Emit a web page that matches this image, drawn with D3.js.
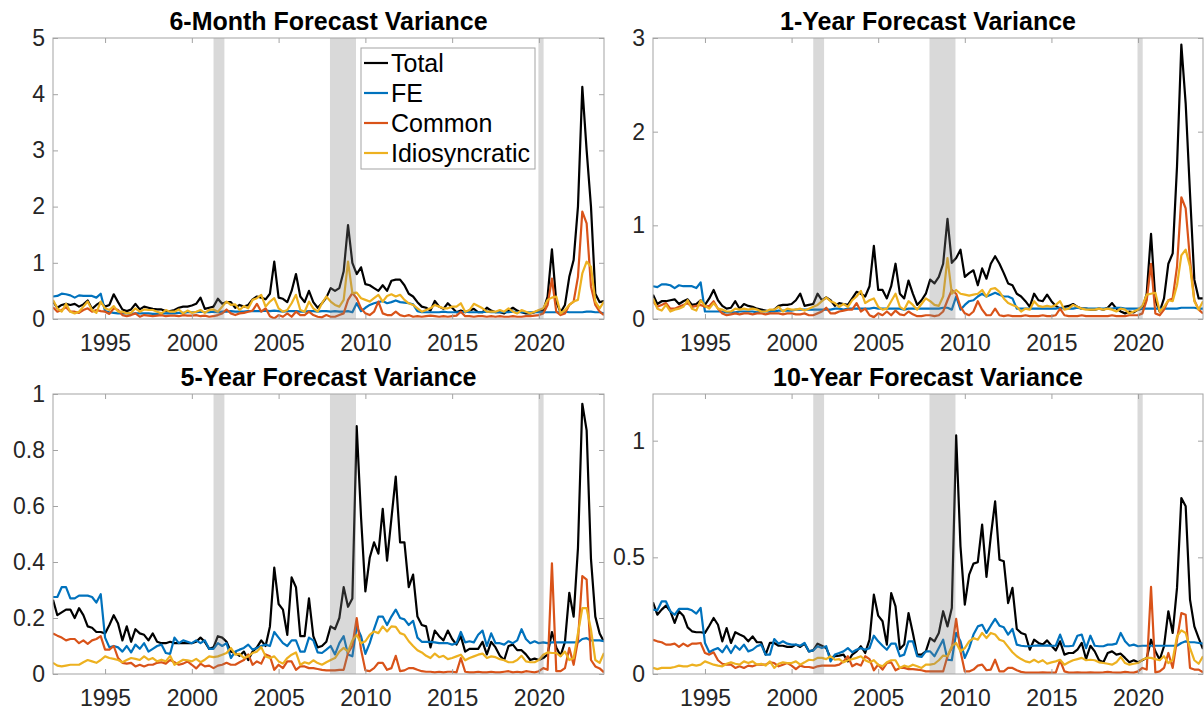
<!DOCTYPE html>
<html>
<head>
<meta charset="utf-8">
<script src="https://cdn.jsdelivr.net/npm/d3@7"></script>
<style>
  body { margin: 0; background: #fff; }
  svg text { font-family: "Liberation Sans", Arial, Helvetica, sans-serif; }
</style>
</head>
<body>
<svg id="chart" width="1204" height="710"></svg>
<script>
// Quarterly observations, 1992Q1 through 2023Q4
const startYear = 1992;
const seriesNames = ["Total", "FE", "Common", "Idiosyncratic"];
const xTickYears = [1995, 2000, 2005, 2010, 2015, 2020];

// NBER recessions (decimal years)
const recessionStart = [2001.25, 2007.96, 2019.97];
const recessionEnd   = [2001.875, 2009.46, 2020.27];

const panelTitles = ["6-Month Forecast Variance", "1-Year Forecast Variance",
                     "5-Year Forecast Variance", "10-Year Forecast Variance"];
const yDomainMax = [5, 3, 1, 1.2];
const yTickValues = [[0, 1, 2, 3, 4, 5], [0, 1, 2, 3], [0, 0.2, 0.4, 0.6, 0.8, 1], [0, 0.5, 1]];

// ---- 6-month horizon ----
const total6m = [0.31,0.2,0.25,0.27, 0.25,0.27,0.22,0.26, 0.33,0.18,0.25,0.3, 0.22,0.25,0.44,0.3,
  0.17,0.14,0.17,0.27, 0.17,0.22,0.2,0.18, 0.17,0.17,0.14,0.14, 0.16,0.2,0.22,0.22,
  0.24,0.27,0.38,0.18, 0.2,0.22,0.36,0.27, 0.3,0.3,0.2,0.25, 0.22,0.25,0.35,0.4,
  0.38,0.35,0.45,1.02, 0.38,0.36,0.3,0.5, 0.8,0.4,0.3,0.5, 0.3,0.2,0.28,0.38,
  0.55,0.5,0.55,0.85, 1.67,1.0,0.8,0.92, 0.62,0.6,0.55,0.5, 0.6,0.5,0.68,0.7,
  0.7,0.6,0.45,0.4, 0.3,0.22,0.2,0.15, 0.32,0.22,0.18,0.28, 0.2,0.12,0.15,0.12,
  0.15,0.18,0.12,0.12, 0.2,0.15,0.12,0.12, 0.1,0.15,0.2,0.15, 0.12,0.1,0.1,0.12,
  0.15,0.15,0.4,1.24, 0.3,0.12,0.25,0.75, 1.05,2.0,4.13,3.0, 2.0,0.45,0.3,0.32];
const fe6m = [0.4,0.41,0.45,0.44, 0.42,0.38,0.42,0.41, 0.41,0.41,0.38,0.45, 0.14,0.12,0.11,0.1,
  0.1,0.1,0.09,0.1, 0.1,0.1,0.1,0.09, 0.09,0.1,0.1,0.1, 0.1,0.11,0.11,0.12,
  0.12,0.12,0.13,0.12, 0.12,0.13,0.12,0.13, 0.13,0.14,0.13,0.13, 0.13,0.14,0.14,0.14,
  0.14,0.15,0.14,0.15, 0.14,0.13,0.14,0.14, 0.14,0.13,0.13,0.14, 0.14,0.13,0.14,0.14,
  0.13,0.14,0.13,0.13, 0.14,0.12,0.28,0.14, 0.2,0.25,0.28,0.3, 0.32,0.28,0.3,0.33,
  0.3,0.29,0.28,0.26, 0.14,0.12,0.12,0.12, 0.12,0.12,0.13,0.12, 0.12,0.12,0.12,0.13,
  0.12,0.12,0.12,0.12, 0.13,0.12,0.12,0.12, 0.12,0.12,0.13,0.12, 0.12,0.12,0.12,0.12,
  0.12,0.12,0.12,0.12, 0.12,0.12,0.13,0.12, 0.12,0.12,0.12,0.13, 0.13,0.12,0.12,0.1];
const common6m = [0.21,0.13,0.16,0.21, 0.13,0.13,0.11,0.16, 0.19,0.13,0.16,0.14, 0.13,0.09,0.19,0.16,
  0.07,0.05,0.07,0.1, 0.04,0.07,0.06,0.05, 0.06,0.07,0.05,0.06, 0.06,0.05,0.07,0.06,
  0.06,0.07,0.05,0.06, 0.04,0.05,0.07,0.1, 0.17,0.1,0.07,0.1, 0.11,0.13,0.15,0.27,
  0.13,0.19,0.05,0.01, 0.07,0.04,0.1,0.04, 0.13,0.07,0.07,0.13, 0.07,0.04,0.03,0.07,
  0.04,0.04,0.07,0.1, 0.34,0.46,0.37,0.19, 0.1,0.07,0.13,0.31, 0.1,0.07,0.07,0.13,
  0.07,0.05,0.07,0.04, 0.05,0.04,0.05,0.06, 0.05,0.04,0.05,0.04, 0.05,0.06,0.13,0.05,
  0.05,0.04,0.05,0.05, 0.04,0.05,0.04,0.05, 0.04,0.04,0.05,0.04, 0.04,0.05,0.05,0.06,
  0.07,0.1,0.25,0.72, 0.13,0.07,0.1,0.25, 0.31,0.75,1.91,1.7, 0.58,0.25,0.13,0.07];
const idio6m = [0.34,0.19,0.13,0.27, 0.13,0.1,0.13,0.22, 0.31,0.16,0.11,0.31, 0.19,0.16,0.23,0.13,
  0.13,0.1,0.11,0.19, 0.13,0.17,0.16,0.16, 0.13,0.1,0.16,0.13, 0.13,0.17,0.1,0.15,
  0.11,0.13,0.16,0.11, 0.16,0.17,0.13,0.22, 0.31,0.25,0.26,0.16, 0.23,0.19,0.34,0.37,
  0.43,0.22,0.31,0.37, 0.19,0.13,0.16,0.28, 0.43,0.16,0.13,0.31, 0.19,0.13,0.28,0.4,
  0.31,0.25,0.22,0.34, 1.02,0.46,0.47,0.37, 0.34,0.31,0.37,0.43, 0.31,0.41,0.44,0.4,
  0.43,0.34,0.28,0.25, 0.19,0.13,0.16,0.19, 0.25,0.22,0.19,0.19, 0.22,0.22,0.28,0.13,
  0.16,0.27,0.23,0.19, 0.13,0.13,0.13,0.16, 0.13,0.19,0.13,0.1, 0.16,0.13,0.1,0.13,
  0.16,0.19,0.34,0.38, 0.4,0.1,0.16,0.25, 0.31,0.34,0.81,1.02, 0.93,0.31,0.19,0.31];

// ---- 1-year horizon ----
const total1y = [0.26,0.16,0.19,0.19, 0.2,0.21,0.16,0.19, 0.21,0.15,0.16,0.2, 0.15,0.22,0.31,0.2,
  0.14,0.11,0.12,0.19, 0.11,0.16,0.14,0.13, 0.11,0.1,0.09,0.08, 0.1,0.14,0.15,0.15,
  0.16,0.2,0.27,0.14, 0.15,0.16,0.27,0.2, 0.23,0.2,0.14,0.17, 0.16,0.15,0.22,0.29,
  0.27,0.24,0.35,0.78, 0.31,0.31,0.22,0.35, 0.59,0.27,0.22,0.41, 0.27,0.15,0.2,0.27,
  0.42,0.38,0.45,0.59, 1.07,0.6,0.65,0.74, 0.45,0.49,0.52,0.36, 0.54,0.43,0.59,0.67,
  0.59,0.49,0.38,0.36, 0.27,0.24,0.19,0.13, 0.27,0.2,0.19,0.26, 0.19,0.14,0.11,0.13,
  0.14,0.16,0.13,0.11, 0.11,0.1,0.1,0.11, 0.1,0.12,0.17,0.11, 0.08,0.06,0.08,0.07,
  0.1,0.11,0.27,0.91, 0.2,0.08,0.22,0.59, 0.7,1.63,2.93,2.3, 1.34,0.42,0.22,0.22];
const fe1y = [0.35,0.34,0.37,0.37, 0.36,0.33,0.36,0.35, 0.35,0.35,0.33,0.39, 0.08,0.08,0.08,0.08,
  0.08,0.07,0.07,0.07, 0.08,0.08,0.08,0.08, 0.07,0.08,0.08,0.08, 0.08,0.09,0.09,0.09,
  0.09,0.1,0.1,0.1, 0.1,0.1,0.1,0.1, 0.1,0.1,0.11,0.11, 0.1,0.11,0.11,0.11,
  0.11,0.11,0.11,0.12, 0.11,0.11,0.11,0.11, 0.11,0.11,0.1,0.11, 0.11,0.11,0.11,0.11,
  0.11,0.11,0.11,0.12, 0.12,0.1,0.24,0.1, 0.15,0.19,0.2,0.24, 0.27,0.24,0.26,0.28,
  0.26,0.24,0.24,0.22, 0.11,0.11,0.11,0.11, 0.11,0.11,0.11,0.11, 0.11,0.11,0.12,0.11,
  0.11,0.11,0.12,0.11, 0.11,0.11,0.11,0.11, 0.11,0.11,0.11,0.12, 0.12,0.11,0.11,0.11,
  0.11,0.11,0.11,0.11, 0.11,0.11,0.11,0.11, 0.11,0.11,0.12,0.12, 0.12,0.12,0.11,0.11];
const common1y = [0.19,0.13,0.15,0.17, 0.11,0.11,0.13,0.15, 0.17,0.13,0.14,0.15, 0.13,0.14,0.19,0.11,
  0.06,0.04,0.05,0.06, 0.05,0.06,0.06,0.05, 0.06,0.06,0.05,0.06, 0.06,0.06,0.05,0.06,
  0.06,0.05,0.05,0.06, 0.04,0.04,0.06,0.08, 0.12,0.06,0.06,0.08, 0.09,0.1,0.1,0.17,
  0.08,0.11,0.04,0.02, 0.06,0.04,0.08,0.04, 0.09,0.05,0.04,0.08, 0.05,0.03,0.03,0.04,
  0.04,0.03,0.04,0.08, 0.2,0.31,0.27,0.13, 0.06,0.04,0.08,0.19, 0.1,0.04,0.04,0.11,
  0.04,0.03,0.04,0.03, 0.03,0.03,0.04,0.03, 0.03,0.03,0.04,0.03, 0.03,0.04,0.11,0.04,
  0.03,0.03,0.03,0.04, 0.03,0.03,0.03,0.03, 0.03,0.03,0.04,0.03, 0.03,0.03,0.04,0.04,
  0.04,0.06,0.2,0.59, 0.06,0.04,0.1,0.2, 0.22,0.56,1.3,1.18, 0.63,0.2,0.1,0.06];
const idio1y = [0.22,0.11,0.09,0.15, 0.08,0.1,0.11,0.13, 0.2,0.11,0.09,0.2, 0.14,0.11,0.17,0.11,
  0.1,0.08,0.08,0.11, 0.1,0.11,0.1,0.11, 0.1,0.08,0.08,0.1, 0.1,0.13,0.08,0.11,
  0.1,0.1,0.11,0.09, 0.11,0.13,0.15,0.19, 0.23,0.19,0.17,0.13, 0.16,0.13,0.2,0.24,
  0.3,0.17,0.2,0.22, 0.13,0.1,0.11,0.19, 0.27,0.13,0.1,0.19, 0.15,0.1,0.16,0.22,
  0.19,0.15,0.14,0.24, 0.65,0.27,0.31,0.27, 0.26,0.25,0.26,0.27, 0.31,0.24,0.32,0.33,
  0.29,0.22,0.17,0.15, 0.13,0.08,0.11,0.1, 0.19,0.14,0.13,0.14, 0.13,0.15,0.19,0.1,
  0.11,0.15,0.13,0.11, 0.1,0.1,0.1,0.11, 0.1,0.11,0.1,0.08, 0.11,0.1,0.06,0.08,
  0.1,0.14,0.26,0.27, 0.28,0.08,0.13,0.2, 0.19,0.36,0.68,0.74, 0.56,0.19,0.1,0.19];

// ---- 5-year horizon ----
const total5y = [0.265,0.21,0.22,0.23, 0.23,0.2,0.235,0.21, 0.17,0.165,0.15,0.15, 0.145,0.175,0.21,0.18,
  0.12,0.17,0.115,0.16, 0.145,0.14,0.12,0.145, 0.115,0.11,0.11,0.115, 0.11,0.11,0.11,0.11,
  0.11,0.115,0.13,0.115, 0.09,0.095,0.135,0.13, 0.115,0.08,0.075,0.065, 0.08,0.05,0.08,0.095,
  0.12,0.1,0.17,0.38, 0.25,0.23,0.14,0.345, 0.31,0.135,0.135,0.27, 0.135,0.095,0.1,0.115,
  0.17,0.16,0.2,0.31, 0.24,0.27,0.885,0.56, 0.295,0.415,0.47,0.43, 0.59,0.405,0.555,0.705,
  0.47,0.47,0.31,0.355, 0.205,0.175,0.17,0.095, 0.155,0.135,0.12,0.155, 0.125,0.105,0.135,0.08,
  0.09,0.09,0.09,0.115, 0.07,0.115,0.095,0.065, 0.05,0.1,0.105,0.085, 0.085,0.07,0.05,0.055,
  0.05,0.057,0.07,0.15, 0.095,0.065,0.115,0.29, 0.205,0.45,0.965,0.87, 0.41,0.205,0.145,0.115];
const fe5y = [0.275,0.275,0.31,0.31, 0.27,0.27,0.28,0.28, 0.28,0.275,0.255,0.285, 0.13,0.095,0.1,0.095,
  0.08,0.1,0.077,0.105, 0.09,0.11,0.08,0.09, 0.1,0.105,0.075,0.072, 0.13,0.11,0.12,0.115,
  0.11,0.12,0.11,0.12, 0.09,0.09,0.11,0.1, 0.11,0.057,0.08,0.087, 0.093,0.105,0.087,0.093,
  0.1,0.105,0.1,0.15, 0.13,0.11,0.1,0.12, 0.12,0.08,0.08,0.13, 0.12,0.077,0.075,0.087,
  0.1,0.07,0.11,0.135, 0.07,0.063,0.17,0.135, 0.072,0.11,0.16,0.205, 0.205,0.175,0.205,0.23,
  0.2,0.195,0.175,0.19, 0.13,0.115,0.115,0.115, 0.113,0.11,0.11,0.11, 0.105,0.11,0.15,0.113,
  0.117,0.113,0.14,0.155, 0.1,0.145,0.11,0.11, 0.105,0.117,0.11,0.12, 0.16,0.125,0.11,0.117,
  0.11,0.113,0.11,0.113, 0.113,0.113,0.113,0.113, 0.113,0.113,0.125,0.128, 0.12,0.12,0.12,0.117];
const common5y = [0.145,0.137,0.13,0.12, 0.125,0.125,0.11,0.12, 0.108,0.12,0.125,0.135, 0.087,0.087,0.1,0.057,
  0.04,0.037,0.04,0.027, 0.033,0.027,0.033,0.033, 0.04,0.042,0.037,0.05, 0.042,0.033,0.037,0.045,
  0.033,0.02,0.037,0.027, 0.03,0.021,0.03,0.033, 0.04,0.033,0.033,0.042, 0.05,0.07,0.033,0.045,
  0.037,0.07,0.063,0.015, 0.033,0.021,0.045,0.045, 0.015,0.027,0.027,0.021, 0.021,0.018,0.015,0.013,
  0.013,0.013,0.015,0.015, 0.075,0.1,0.2,0.087, 0.013,0.01,0.021,0.04, 0.04,0.015,0.021,0.065,
  0.01,0.013,0.021,0.021, 0.015,0.01,0.008,0.008, 0.006,0.008,0.006,0.008, 0.008,0.006,0.057,0.008,
  0.006,0.006,0.008,0.006, 0.006,0.008,0.006,0.006, 0.008,0.01,0.006,0.008, 0.006,0.01,0.008,0.006,
  0.01,0.021,0.015,0.395, 0.01,0.01,0.021,0.093, 0.033,0.12,0.35,0.337, 0.05,0.027,0.02,0.006];
const idio5y = [0.04,0.03,0.027,0.03, 0.033,0.033,0.033,0.042, 0.05,0.045,0.04,0.05, 0.063,0.057,0.054,0.05,
  0.042,0.05,0.057,0.054, 0.05,0.063,0.051,0.057, 0.045,0.051,0.045,0.065, 0.033,0.042,0.051,0.049,
  0.045,0.054,0.042,0.051, 0.063,0.06,0.063,0.069, 0.075,0.093,0.069,0.072, 0.057,0.063,0.075,0.08,
  0.096,0.063,0.057,0.063, 0.045,0.037,0.057,0.069, 0.077,0.033,0.042,0.037, 0.049,0.039,0.033,0.042,
  0.05,0.057,0.08,0.093, 0.08,0.12,0.14,0.11, 0.117,0.14,0.152,0.146, 0.17,0.152,0.17,0.168,
  0.146,0.14,0.117,0.1, 0.085,0.077,0.065,0.057, 0.073,0.06,0.065,0.053, 0.057,0.063,0.069,0.049,
  0.057,0.063,0.069,0.073, 0.057,0.063,0.06,0.053, 0.049,0.042,0.042,0.05, 0.065,0.045,0.042,0.042,
  0.05,0.069,0.077,0.075, 0.075,0.063,0.08,0.05, 0.057,0.146,0.235,0.235, 0.158,0.05,0.04,0.075];

// ---- 10-year horizon ----
const total10y = [0.307,0.254,0.276,0.293, 0.269,0.219,0.269,0.25, 0.2,0.183,0.179,0.179, 0.176,0.207,0.24,0.211,
  0.14,0.197,0.133,0.179, 0.169,0.161,0.14,0.161, 0.136,0.136,0.083,0.133, 0.133,0.121,0.121,0.116,
  0.116,0.126,0.116,0.13, 0.097,0.101,0.13,0.121, 0.111,0.069,0.076,0.079, 0.083,0.054,0.083,0.097,
  0.119,0.09,0.147,0.34, 0.25,0.226,0.126,0.347, 0.29,0.107,0.126,0.261, 0.176,0.083,0.083,0.097,
  0.154,0.14,0.176,0.269, 0.204,0.283,1.023,0.547, 0.297,0.426,0.473,0.479, 0.64,0.416,0.59,0.74,
  0.49,0.483,0.304,0.369, 0.193,0.176,0.169,0.104, 0.147,0.133,0.126,0.144, 0.121,0.101,0.14,0.083,
  0.09,0.09,0.104,0.133, 0.064,0.121,0.097,0.059, 0.05,0.09,0.097,0.083, 0.087,0.069,0.05,0.059,
  0.05,0.059,0.069,0.147, 0.097,0.061,0.119,0.269, 0.176,0.369,0.754,0.719, 0.319,0.204,0.154,0.107];
const fe10y = [0.276,0.273,0.311,0.311, 0.269,0.254,0.279,0.279, 0.279,0.273,0.259,0.283, 0.133,0.093,0.104,0.111,
  0.093,0.121,0.09,0.121, 0.104,0.126,0.097,0.104, 0.119,0.126,0.083,0.083, 0.15,0.13,0.14,0.13,
  0.126,0.126,0.121,0.133, 0.097,0.101,0.119,0.111, 0.119,0.054,0.083,0.09, 0.097,0.111,0.093,0.104,
  0.111,0.104,0.111,0.164, 0.14,0.121,0.104,0.13, 0.13,0.076,0.083,0.14, 0.14,0.076,0.073,0.097,
  0.097,0.076,0.111,0.147, 0.061,0.059,0.176,0.14, 0.069,0.111,0.169,0.204, 0.211,0.176,0.207,0.236,
  0.207,0.2,0.169,0.193, 0.126,0.121,0.119,0.119, 0.121,0.123,0.121,0.123, 0.121,0.121,0.169,0.119,
  0.119,0.121,0.164,0.169, 0.111,0.164,0.121,0.119, 0.119,0.126,0.126,0.13, 0.176,0.14,0.121,0.126,
  0.119,0.121,0.121,0.121, 0.121,0.121,0.121,0.121, 0.121,0.121,0.133,0.14, 0.136,0.136,0.133,0.13];
const common10y = [0.147,0.14,0.136,0.126, 0.126,0.13,0.116,0.13, 0.119,0.13,0.13,0.133, 0.09,0.083,0.093,0.059,
  0.044,0.04,0.04,0.026, 0.033,0.026,0.036,0.033, 0.04,0.04,0.04,0.05, 0.047,0.033,0.04,0.047,
  0.036,0.021,0.036,0.03, 0.03,0.026,0.033,0.036, 0.036,0.036,0.036,0.04, 0.054,0.076,0.033,0.044,
  0.036,0.076,0.064,0.016, 0.04,0.019,0.047,0.05, 0.016,0.026,0.026,0.021, 0.021,0.019,0.016,0.011,
  0.011,0.011,0.011,0.011, 0.076,0.111,0.236,0.097, 0.011,0.011,0.019,0.036, 0.04,0.016,0.019,0.061,
  0.011,0.011,0.026,0.026, 0.016,0.009,0.006,0.006, 0.006,0.006,0.007,0.006, 0.006,0.006,0.059,0.011,
  0.006,0.006,0.007,0.006, 0.006,0.007,0.006,0.006, 0.007,0.009,0.007,0.006, 0.006,0.009,0.007,0.006,
  0.011,0.026,0.019,0.373, 0.007,0.011,0.026,0.09, 0.026,0.147,0.261,0.254, 0.026,0.019,0.019,0.007];
const idio10y = [0.026,0.021,0.026,0.026, 0.026,0.03,0.036,0.033, 0.033,0.04,0.036,0.04, 0.054,0.047,0.04,0.036,
  0.033,0.044,0.05,0.044, 0.04,0.054,0.047,0.054, 0.04,0.044,0.036,0.054, 0.026,0.044,0.05,0.047,
  0.047,0.054,0.04,0.05, 0.061,0.059,0.069,0.069, 0.064,0.076,0.061,0.064, 0.05,0.059,0.064,0.069,
  0.076,0.059,0.05,0.059, 0.04,0.033,0.05,0.059, 0.059,0.026,0.036,0.03, 0.04,0.033,0.026,0.04,
  0.04,0.044,0.059,0.079, 0.076,0.119,0.133,0.097, 0.111,0.14,0.154,0.147, 0.176,0.154,0.176,0.169,
  0.147,0.14,0.116,0.093, 0.076,0.064,0.054,0.05, 0.061,0.05,0.059,0.044, 0.05,0.054,0.061,0.04,
  0.05,0.059,0.064,0.069, 0.059,0.061,0.059,0.05, 0.047,0.044,0.04,0.05, 0.073,0.047,0.04,0.044,
  0.047,0.061,0.069,0.069, 0.064,0.059,0.076,0.047, 0.061,0.161,0.187,0.176, 0.111,0.059,0.044,0.076];

const panelSeries = [
  [total6m, fe6m, common6m, idio6m],
  [total1y, fe1y, common1y, idio1y],
  [total5y, fe5y, common5y, idio5y],
  [total10y, fe10y, common10y, idio10y]
];

// ---- styling & layout ----
const lineColors = ["#000000", "#0072BD", "#D95319", "#EDB120"];
const boxColor = "#a3a3a3";
const textColor = "#262626";
const panelRects = [
  { x0: 53,  x1: 604,  y0: 38,  y1: 319 },
  { x0: 653, x1: 1203, y0: 38,  y1: 319 },
  { x0: 53,  x1: 604,  y0: 394, y1: 674 },
  { x0: 653, x1: 1203, y0: 394, y1: 674 }
];

const svg = d3.select("#chart");
const defs = svg.append("defs");

panelRects.forEach((r, p) => {
  const x = d3.scaleLinear().domain([startYear, 2023.75]).range([r.x0, r.x1]);
  const y = d3.scaleLinear().domain([0, yDomainMax[p]]).range([r.y1, r.y0]);
  const g = svg.append("g");

  defs.append("clipPath").attr("id", "clip" + p)
    .append("rect").attr("x", r.x0).attr("y", r.y0)
    .attr("width", r.x1 - r.x0).attr("height", r.y1 - r.y0);

  // series lines
  const line = d3.line()
    .x((d, i) => x(startYear + i / 4))
    .y(d => y(d));
  const plot = g.append("g").attr("clip-path", `url(#clip${p})`);
  panelSeries[p].forEach((vals, s) => {
    plot.append("path")
      .datum(vals)
      .attr("d", line)
      .attr("fill", "none")
      .attr("stroke", lineColors[s])
      .attr("stroke-width", 2.2)
      .attr("stroke-linejoin", "round");
  });

  // translucent recession bands over the lines
  plot.selectAll("rect.rec")
    .data(d3.zip(recessionStart, recessionEnd))
    .join("rect")
    .attr("class", "rec")
    .attr("x", d => x(d[0]))
    .attr("width", d => x(d[1]) - x(d[0]))
    .attr("y", r.y0)
    .attr("height", r.y1 - r.y0)
    .attr("fill", "rgb(128,128,128)")
    .attr("fill-opacity", 0.3);

  // axes: labelled bottom/left, tick-only top/right, ticks pointing inward
  const styleAxis = sel => {
    sel.select(".domain").remove();
    sel.selectAll(".tick line").attr("stroke", boxColor);
    sel.selectAll(".tick text").attr("fill", textColor).attr("font-size", 23);
  };
  g.append("g").attr("transform", `translate(0,${r.y1})`)
    .call(d3.axisBottom(x).tickValues(xTickYears).tickFormat(d3.format("d"))
      .tickSize(-5).tickPadding(16))
    .call(styleAxis);
  g.append("g").attr("transform", `translate(0,${r.y0})`)
    .call(d3.axisTop(x).tickValues(xTickYears).tickFormat("").tickSize(-5))
    .call(styleAxis);
  g.append("g").attr("transform", `translate(${r.x0},0)`)
    .call(d3.axisLeft(y).tickValues(yTickValues[p]).tickFormat(d => String(d))
      .tickSize(-5).tickPadding(8))
    .call(styleAxis);
  g.append("g").attr("transform", `translate(${r.x1},0)`)
    .call(d3.axisRight(y).tickValues(yTickValues[p]).tickFormat("").tickSize(-5))
    .call(styleAxis);

  g.append("rect")
    .attr("x", r.x0).attr("y", r.y0)
    .attr("width", r.x1 - r.x0).attr("height", r.y1 - r.y0)
    .attr("fill", "none").attr("stroke", boxColor).attr("stroke-width", 1);

  g.append("text")
    .attr("x", (r.x0 + r.x1) / 2)
    .attr("y", r.y0 - 8)
    .attr("text-anchor", "middle")
    .attr("font-size", 25)
    .attr("font-weight", "bold")
    .attr("fill", "#000")
    .text(panelTitles[p]);
});

// legend inside the first panel
const legend = svg.append("g");
legend.append("rect")
  .attr("x", 361).attr("y", 48).attr("width", 174).attr("height", 121)
  .attr("fill", "#fff").attr("stroke", boxColor).attr("stroke-width", 1);
seriesNames.forEach((name, s) => {
  const base = 72 + s * 30;
  legend.append("line")
    .attr("x1", 364).attr("x2", 388)
    .attr("y1", base - 9).attr("y2", base - 9)
    .attr("stroke", lineColors[s]).attr("stroke-width", 2.2);
  legend.append("text")
    .attr("x", 391).attr("y", base)
    .attr("font-size", 25)
    .attr("fill", "#000")
    .text(name);
});
</script>
</body>
</html>
